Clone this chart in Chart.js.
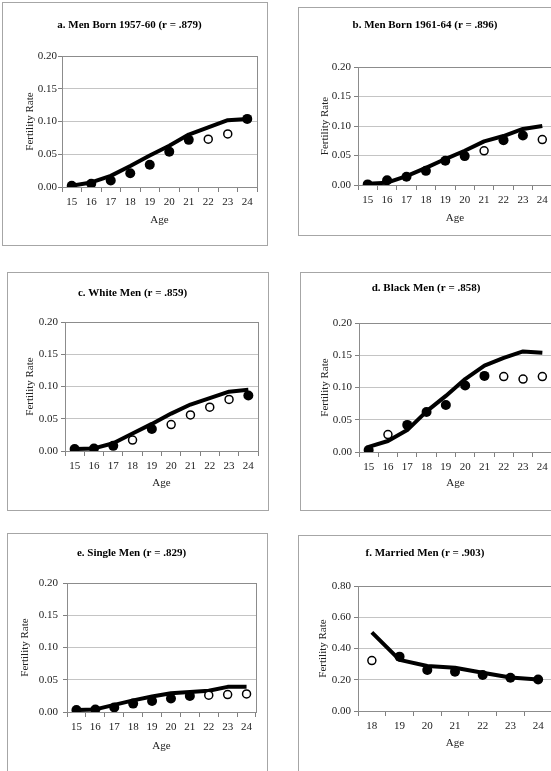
<!DOCTYPE html>
<html>
<head>
<meta charset="utf-8">
<title>Fertility Rate by Age</title>
<script src="https://cdn.jsdelivr.net/npm/chart.js@4"></script>
<style>
    html, body { margin: 0; padding: 0; width: 551px; height: 771px; overflow: hidden; background: #fff; }
    .frame { position: absolute; border: 1px solid #a6a6a6; box-sizing: border-box; }
    canvas { position: absolute; }
</style>
</head>
<body>
<script>
// --- Categories & tick values ---
const agesTeen = ['15', '16', '17', '18', '19', '20', '21', '22', '23', '24'];
const agesMarried = ['18', '19', '20', '21', '22', '23', '24'];
const rateTicks = [0, 0.05, 0.10, 0.15, 0.20];
const marriedTicks = [0, 0.20, 0.40, 0.60, 0.80];

// --- a. Men Born 1957-60 ---
const predA   = [0.002, 0.007, 0.017, 0.032, 0.048, 0.063, 0.080, 0.091, 0.102, 0.104];
const filledA = [0.002, 0.005, 0.010, 0.021, 0.034, 0.054, 0.072, null, null, 0.104];
const openA   = [null, null, null, null, null, null, null, 0.073, 0.081, null];

// --- b. Men Born 1961-64 ---
const predB   = [0.002, 0.004, 0.015, 0.029, 0.044, 0.058, 0.074, 0.083, 0.095, 0.100];
const filledB = [0.001, 0.008, 0.014, 0.024, 0.041, 0.049, null, 0.076, 0.084, null];
const openB   = [null, null, null, null, null, null, 0.058, null, null, 0.077];

// --- c. White Men ---
const predC   = [0.003, 0.004, 0.012, 0.027, 0.042, 0.058, 0.072, 0.082, 0.092, 0.095];
const filledC = [0.003, 0.004, 0.008, null, 0.034, null, null, null, null, 0.086];
const openC   = [null, null, null, 0.017, null, 0.041, 0.056, 0.068, 0.080, null];

// --- d. Black Men ---
const predD   = [0.008, 0.017, 0.034, 0.063, 0.087, 0.113, 0.134, 0.146, 0.156, 0.154];
const filledD = [0.003, null, 0.042, 0.062, 0.073, 0.103, 0.118, null, null, null];
const openD   = [null, 0.027, null, null, null, null, null, 0.117, 0.113, 0.117];

// --- e. Single Men ---
const predE   = [0.003, 0.004, 0.011, 0.018, 0.024, 0.029, 0.031, 0.033, 0.039, 0.039];
const filledE = [0.003, 0.004, 0.007, 0.013, 0.017, 0.021, 0.025, null, null, null];
const openE   = [null, null, null, null, null, null, null, 0.026, 0.027, 0.028];

// --- f. Married Men ---
const predF   = [0.503, 0.327, 0.288, 0.277, 0.245, 0.215, 0.202];
const filledF = [null, 0.348, 0.262, 0.252, 0.230, 0.213, 0.202];
const openF   = [0.323, null, null, null, null, null, null];

const SERIF = "'Liberation Serif', 'DejaVu Serif', serif";
const HALF_LINE = 6.6; // nua chieu cao dong chu 11px

// Khung vung ve (vien xam quanh plot area)
const plotFrame = {
    id: 'plotFrame',
    afterDraw(chart) {
        const a = chart.chartArea;
        const ctx = chart.ctx;
        ctx.save();
        ctx.strokeStyle = '#8c8c8c';
        ctx.lineWidth = 1;
        ctx.strokeRect(Math.round(a.left) + 0.5, Math.round(a.top) + 0.5,
            Math.round(a.right - a.left), Math.round(a.bottom - a.top));
        ctx.restore();
    }
};

function makePanel(p) {
    const box = p.box, plot = p.plot;

    const frame = document.createElement('div');
    frame.className = 'frame';
    frame.style.left = box.x + 'px';
    frame.style.top = box.y + 'px';
    frame.style.width = box.w + 'px';
    frame.style.height = box.h + 'px';
    document.body.appendChild(frame);

    const canvas = document.createElement('canvas');
    canvas.width = box.w;
    canvas.height = box.h;
    canvas.style.left = box.x + 'px';
    canvas.style.top = box.y + 'px';
    canvas.style.width = box.w + 'px';
    canvas.style.height = box.h + 'px';
    document.body.appendChild(canvas);

    const boxBottom = box.y + box.h;
    const tickFont = { family: SERIF, size: 11 };

    new Chart(canvas.getContext('2d'), {
        type: 'line',
        data: {
            labels: p.labels,
            datasets: [
                {
                    label: 'Observed (open)',
                    data: p.open,
                    showLine: false,
                    pointRadius: 4,
                    pointBackgroundColor: '#fff',
                    pointBorderColor: '#000',
                    pointBorderWidth: 1.5,
                    order: 0
                },
                {
                    label: 'Observed',
                    data: p.filled,
                    showLine: false,
                    pointRadius: 5,
                    pointBackgroundColor: '#000',
                    pointBorderColor: '#000',
                    pointBorderWidth: 0,
                    order: 1
                },
                {
                    label: 'Predicted',
                    data: p.pred,
                    borderColor: '#000',
                    borderWidth: 4,
                    pointRadius: 0,
                    tension: 0,
                    borderJoinStyle: 'round',
                    order: 2
                }
            ]
        },
        options: {
            responsive: false,
            animation: false,
            devicePixelRatio: 1,
            events: [],
            layout: {
                padding: { left: 0, top: 0, bottom: 0, right: box.x + box.w - plot.r }
            },
            plugins: {
                legend: { display: false },
                tooltip: { enabled: false },
                title: {
                    display: true,
                    text: p.title,
                    color: '#000',
                    font: { family: SERIF, size: 11, weight: 'bold' },
                    padding: {
                        top: p.titleY - box.y - HALF_LINE,
                        bottom: plot.t - p.titleY - HALF_LINE
                    }
                }
            },
            scales: {
                x: {
                    offset: true,
                    grid: {
                        offset: true,
                        drawOnChartArea: false,
                        tickLength: 5,
                        tickColor: '#808080'
                    },
                    border: { color: '#808080' },
                    ticks: { color: '#222', font: tickFont, padding: 4, autoSkip: false, maxRotation: 0 },
                    title: {
                        display: true,
                        text: 'Age',
                        color: '#222',
                        font: tickFont,
                        padding: { top: 0, bottom: boxBottom - p.ageY - HALF_LINE }
                    },
                    afterFit: function (s) { s.height = boxBottom - plot.b; }
                },
                y: {
                    min: p.ticks[0],
                    max: p.ticks[p.ticks.length - 1],
                    grid: { color: '#c4c4c4', tickLength: 4, tickColor: '#808080' },
                    border: { color: '#808080' },
                    ticks: {
                        color: '#222',
                        font: tickFont,
                        padding: p.yPad,
                        callback: function (v) { return Number(v).toFixed(2); }
                    },
                    afterBuildTicks: function (s) { s.ticks = p.ticks.map(v => ({ value: v })); },
                    title: {
                        display: true,
                        text: 'Fertility Rate',
                        color: '#222',
                        font: tickFont,
                        padding: { top: p.yTitleX - box.x - HALF_LINE, bottom: 0 }
                    },
                    afterFit: function (s) { s.width = plot.l - box.x; }
                }
            }
        },
        plugins: [plotFrame]
    });
}

makePanel({
    title: 'a. Men Born 1957-60 (r = .879)', labels: agesTeen, ticks: rateTicks,
    pred: predA, filled: filledA, open: openA,
    box: { x: 2, y: 2, w: 266, h: 244 }, plot: { l: 62, t: 56, r: 257, b: 187 },
    titleY: 25, ageY: 220, yTitleX: 30, yPad: 1
});
makePanel({
    title: 'b. Men Born 1961-64 (r = .896)', labels: agesTeen, ticks: rateTicks,
    pred: predB, filled: filledB, open: openB,
    box: { x: 298, y: 7, w: 262, h: 229 }, plot: { l: 358, t: 67, r: 552, b: 185 },
    titleY: 25, ageY: 218, yTitleX: 325, yPad: 3
});
makePanel({
    title: 'c. White Men (r = .859)', labels: agesTeen, ticks: rateTicks,
    pred: predC, filled: filledC, open: openC,
    box: { x: 7, y: 272, w: 262, h: 239 }, plot: { l: 65, t: 322, r: 258, b: 451 },
    titleY: 293, ageY: 483, yTitleX: 30, yPad: 3
});
makePanel({
    title: 'd. Black Men (r = .858)', labels: agesTeen, ticks: rateTicks,
    pred: predD, filled: filledD, open: openD,
    box: { x: 300, y: 272, w: 260, h: 239 }, plot: { l: 359, t: 323, r: 552, b: 452 },
    titleY: 288, ageY: 483, yTitleX: 325, yPad: 3
});
makePanel({
    title: 'e. Single Men (r = .829)', labels: agesTeen, ticks: rateTicks,
    pred: predE, filled: filledE, open: openE,
    box: { x: 7, y: 533, w: 261, h: 245 }, plot: { l: 67, t: 583, r: 256, b: 712 },
    titleY: 553, ageY: 746, yTitleX: 25, yPad: 5
});
makePanel({
    title: 'f. Married Men (r = .903)', labels: agesMarried, ticks: marriedTicks,
    pred: predF, filled: filledF, open: openF,
    box: { x: 298, y: 535, w: 262, h: 245 }, plot: { l: 358, t: 586, r: 552, b: 711 },
    titleY: 553, ageY: 743, yTitleX: 323, yPad: 3
});
</script>
</body>
</html>
